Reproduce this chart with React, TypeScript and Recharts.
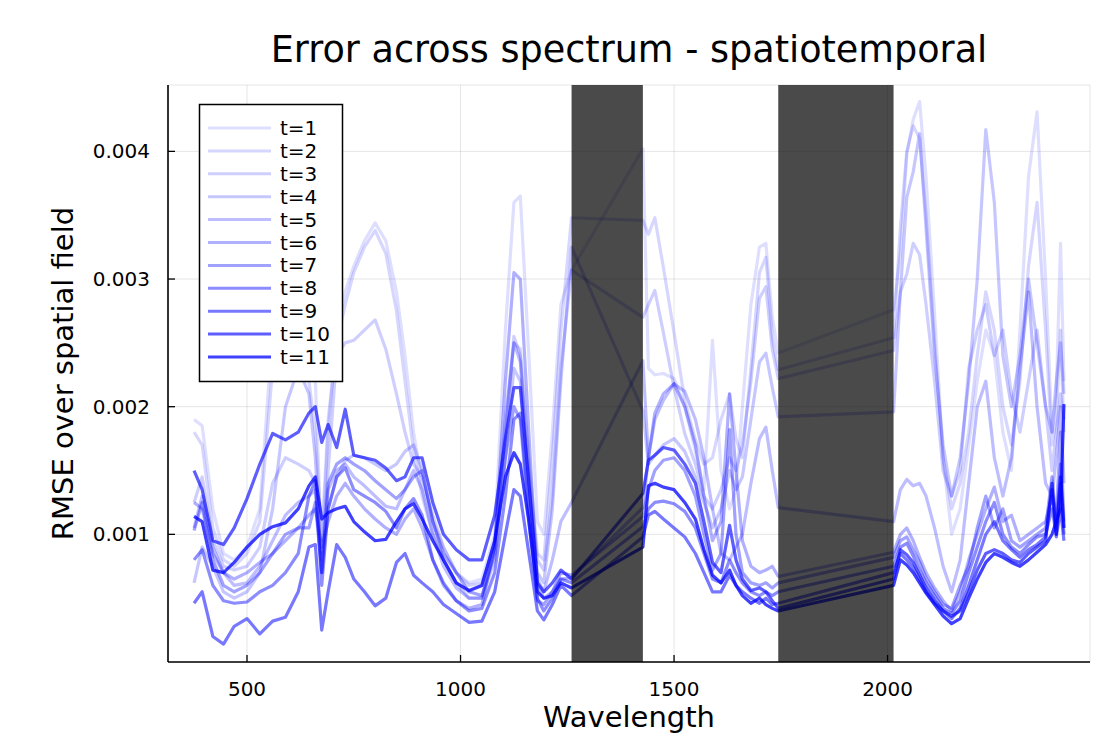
import React from 'react';
import { LineChart, Line, XAxis, YAxis, CartesianGrid, ReferenceArea } from 'recharts';

// Wavelength sampling (nm), in three segments separated by the masked absorption bands
const LEFT_WL = [376, 395, 420, 445, 470, 500, 530, 560, 590, 620, 645, 660, 675, 690, 710, 730, 750, 775, 800, 825, 850, 870, 890, 910, 935, 960, 990, 1020, 1050, 1080, 1105, 1125, 1140, 1160, 1180, 1195, 1215, 1235, 1260];
const MID_WL = [1427, 1440, 1455, 1475, 1500, 1525, 1550, 1570, 1590, 1610, 1630, 1645, 1660, 1680, 1700, 1715, 1730, 1744];
const RIGHT_WL = [2014, 2030, 2045, 2060, 2075, 2090, 2110, 2130, 2150, 2170, 2190, 2210, 2230, 2250, 2270, 2290, 2310, 2330, 2350, 2370, 2385, 2395, 2405, 2413];
const WAVELENGTHS = [...LEFT_WL, ...MID_WL, ...RIGHT_WL];

// Masked bands (nm)
const BANDS = [[1260, 1427], [1744, 2014]];

// RMSE values in units of 1e-3
const T1 = [1.90, 1.85, 1.20, 0.85, 0.80, 0.90, 1.20, 2.60, 2.90, 2.75, 2.60, 2.20, 0.85, 1.80, 2.60, 2.90, 3.10, 3.30, 3.44, 3.30, 2.90, 2.40, 1.80, 1.40, 1.10, 0.90, 0.70, 0.62, 0.65, 1.00, 2.60, 3.60, 3.65, 2.40, 1.10, 1.00, 1.80, 2.80, 3.07,
  4.02, 2.30, 2.25, 2.26, 2.22, 2.00, 1.65, 1.35, 2.52, 1.50, 1.20, 1.35, 2.00, 2.80, 3.25, 3.28, 2.70, 2.42,
  2.76, 3.20, 3.98, 4.25, 4.39, 3.80, 2.73, 1.60, 1.00, 1.20, 1.70, 2.20, 2.60, 2.40, 1.80, 1.50, 2.60, 3.80, 4.31, 3.00, 1.80, 2.10, 3.28, 2.20];
const T2 = [1.80, 1.70, 1.05, 0.80, 0.75, 0.85, 1.10, 2.30, 2.50, 2.40, 2.20, 1.80, 0.95, 1.90, 2.50, 2.80, 3.05, 3.25, 3.38, 3.20, 2.75, 2.20, 1.65, 1.30, 1.00, 0.80, 0.62, 0.55, 0.60, 0.95, 1.80, 2.50, 2.45, 1.60, 0.85, 0.80, 1.60, 2.60, 3.48,
  3.46, 3.35, 3.48, 3.09, 2.58, 2.05, 1.74, 1.55, 1.60, 1.90, 2.10, 1.75, 1.60, 2.30, 3.05, 3.17, 2.55, 2.29,
  2.54, 3.40, 4.00, 4.20, 4.10, 3.50, 2.50, 1.60, 1.20, 1.40, 1.80, 2.40, 2.90, 2.60, 2.00, 1.70, 2.20, 3.10, 3.60, 2.60, 1.70, 1.90, 2.60, 1.80];
const T3 = [1.25, 1.45, 0.95, 0.75, 0.72, 0.75, 0.90, 1.40, 1.60, 1.55, 1.50, 1.40, 0.80, 1.50, 2.40, 2.50, 2.52, 2.60, 2.68, 2.45, 2.10, 1.80, 1.55, 1.45, 1.15, 0.90, 0.70, 0.60, 0.62, 0.90, 1.80, 2.55, 2.40, 1.50, 0.80, 0.72, 1.30, 2.30, 3.07,
  2.70, 2.80, 2.91, 2.58, 2.15, 1.79, 1.55, 1.30, 1.20, 1.35, 1.60, 1.50, 1.70, 2.20, 2.85, 2.94, 2.45, 2.22,
  2.44, 2.90, 3.04, 3.28, 3.19, 2.80, 2.20, 1.50, 1.30, 1.50, 2.30, 2.60, 2.80, 2.40, 2.60, 2.10, 1.80, 2.20, 2.60, 2.00, 1.50, 1.80, 2.10, 1.90];
const T4 = [0.62, 0.90, 0.75, 0.55, 0.50, 0.55, 0.70, 1.20, 2.00, 2.30, 2.10, 1.60, 0.70, 1.20, 1.45, 1.58, 1.62, 1.60, 1.55, 1.50, 1.55, 1.65, 1.70, 1.50, 1.10, 0.80, 0.62, 0.50, 0.50, 0.80, 1.60, 2.30, 2.20, 1.40, 0.70, 0.62, 1.20, 2.20, 3.25,
  1.97, 1.55, 1.62, 1.70, 1.75, 1.65, 1.45, 1.25, 1.05, 1.20, 1.50, 1.35, 1.45, 1.90, 2.35, 2.42, 2.15, 1.92,
  1.96, 2.90, 3.64, 3.84, 4.14, 3.40, 2.40, 1.70, 1.30, 1.60, 2.20, 3.00, 4.17, 3.60, 2.40, 2.00, 2.40, 3.00, 2.50, 2.00, 1.80, 2.20, 2.50, 2.10];
const T5 = [1.05, 1.30, 0.90, 0.70, 0.60, 0.62, 0.75, 0.95, 1.15, 1.25, 1.30, 1.35, 0.70, 1.35, 1.50, 1.55, 1.45, 1.38, 1.30, 1.22, 1.20, 1.35, 1.50, 1.35, 1.00, 0.75, 0.58, 0.50, 0.50, 0.90, 1.90, 2.50, 2.35, 1.40, 0.65, 0.55, 0.80, 1.10, 1.25,
  2.36, 1.60, 1.90, 2.05, 2.18, 2.12, 1.90, 1.60, 1.20, 0.85, 0.80, 0.90, 1.00, 1.40, 1.75, 1.84, 1.50, 1.21,
  1.10, 1.35, 1.43, 1.38, 1.40, 1.30, 1.05, 0.75, 0.55, 0.80, 1.40, 2.00, 2.20, 1.60, 1.30, 1.60, 2.30, 2.90, 2.00, 1.40, 1.30, 1.60, 2.00, 1.40];
const T6 = [1.25, 1.20, 0.85, 0.70, 0.65, 0.70, 0.78, 0.85, 0.95, 1.05, 1.15, 1.20, 0.90, 1.10, 1.30, 1.40, 1.30, 1.20, 1.12, 1.05, 1.00, 1.12, 1.20, 1.05, 0.80, 0.60, 0.48, 0.42, 0.45, 0.90, 2.20, 3.05, 3.00, 1.80, 0.60, 0.50, 0.55, 0.65, 0.66,
  1.21, 1.60, 1.95, 2.10, 2.18, 2.00, 1.70, 1.30, 0.95, 1.10, 2.10, 1.50, 0.95, 0.75, 0.70, 0.72, 0.75, 0.67,
  0.86, 1.00, 1.05, 0.95, 0.82, 0.70, 0.58, 0.48, 0.40, 0.55, 0.80, 1.00, 1.20, 1.37, 1.10, 1.15, 0.95, 1.00, 1.05, 1.10, 1.30, 1.15, 1.80, 1.10];
const T7 = [1.03, 1.25, 0.80, 0.60, 0.55, 0.60, 0.70, 0.85, 1.00, 1.05, 1.05, 1.25, 0.70, 1.40, 1.55, 1.60, 1.55, 1.50, 1.42, 1.35, 1.28, 1.35, 1.45, 1.50, 1.10, 0.85, 0.70, 0.55, 0.52, 0.85, 1.60, 2.00, 1.90, 1.10, 0.48, 0.45, 0.55, 0.70, 0.68,
  1.14, 1.35, 1.50, 1.58, 1.60, 1.50, 1.30, 1.00, 0.72, 0.85, 1.82, 1.00, 0.70, 0.62, 0.60, 0.62, 0.58, 0.62,
  0.82, 0.95, 0.98, 0.88, 0.78, 0.66, 0.55, 0.45, 0.42, 0.60, 0.75, 1.05, 1.30, 1.05, 1.20, 0.95, 0.90, 0.95, 1.00, 1.05, 1.45, 1.05, 1.55, 1.05];
const T8 = [0.80, 0.88, 0.60, 0.48, 0.46, 0.47, 0.55, 0.60, 0.70, 0.85, 1.30, 1.42, 0.60, 1.20, 1.45, 1.52, 1.35, 1.30, 1.25, 1.18, 1.05, 1.20, 1.28, 1.15, 0.80, 0.62, 0.48, 0.40, 0.42, 0.70, 1.30, 1.90, 1.95, 1.20, 0.50, 0.40, 0.50, 0.65, 0.62,
  1.06, 1.20, 1.25, 1.26, 1.24, 1.18, 1.05, 0.85, 0.65, 0.62, 0.80, 0.70, 0.62, 0.55, 0.52, 0.55, 0.52, 0.55,
  0.75, 0.90, 0.93, 0.83, 0.72, 0.62, 0.52, 0.42, 0.38, 0.48, 0.70, 0.90, 1.10, 1.25, 1.00, 0.90, 0.85, 0.92, 0.98, 1.00, 1.20, 1.00, 1.40, 1.00];
const T9 = [0.46, 0.55, 0.20, 0.14, 0.28, 0.34, 0.22, 0.32, 0.35, 0.55, 0.90, 0.92, 0.25, 0.55, 0.92, 0.82, 0.65, 0.55, 0.44, 0.50, 0.78, 0.85, 0.68, 0.62, 0.55, 0.45, 0.38, 0.31, 0.32, 0.55, 1.00, 1.35, 1.30, 0.85, 0.40, 0.33, 0.45, 0.60, 0.52,
  0.98, 1.15, 1.18, 1.12, 1.05, 0.98, 0.85, 0.70, 0.55, 0.55, 0.68, 0.60, 0.55, 0.50, 0.46, 0.50, 0.45, 0.46,
  0.70, 0.85, 0.80, 0.74, 0.65, 0.55, 0.46, 0.40, 0.34, 0.42, 0.60, 0.80, 1.00, 1.10, 0.95, 0.88, 0.82, 0.88, 0.92, 0.98, 1.35, 0.98, 1.20, 0.95];
const T10 = [1.50, 1.35, 0.95, 0.92, 1.05, 1.28, 1.55, 1.79, 1.74, 1.80, 1.95, 2.00, 1.72, 1.86, 1.68, 1.98, 1.62, 1.60, 1.58, 1.52, 1.42, 1.45, 1.60, 1.60, 1.25, 1.00, 0.88, 0.80, 0.80, 1.15, 1.75, 2.15, 2.15, 1.40, 0.62, 0.55, 0.62, 0.72, 0.65,
  1.32, 1.58, 1.62, 1.68, 1.66, 1.55, 1.40, 1.10, 0.78, 0.70, 1.07, 0.80, 0.65, 0.56, 0.58, 0.55, 0.48, 0.42,
  0.65, 0.88, 0.84, 0.78, 0.68, 0.58, 0.48, 0.40, 0.36, 0.40, 0.55, 0.72, 0.85, 0.88, 0.85, 0.80, 0.78, 0.85, 0.90, 0.95, 1.40, 1.00, 1.45, 1.05];
const T11 = [1.14, 1.10, 0.72, 0.70, 0.78, 0.90, 1.00, 1.06, 1.09, 1.20, 1.38, 1.45, 1.12, 1.17, 1.20, 1.22, 1.10, 1.02, 0.95, 0.96, 1.10, 1.20, 1.24, 1.12, 0.95, 0.80, 0.62, 0.56, 0.60, 0.95, 1.45, 1.64, 1.55, 1.10, 0.55, 0.50, 0.52, 0.62, 0.58,
  0.90, 1.38, 1.40, 1.37, 1.35, 1.25, 1.12, 0.88, 0.68, 0.62, 0.72, 0.60, 0.52, 0.46, 0.50, 0.45, 0.42, 0.40,
  0.60, 0.80, 0.76, 0.70, 0.62, 0.54, 0.45, 0.36, 0.30, 0.34, 0.50, 0.65, 0.78, 0.85, 0.82, 0.78, 0.75, 0.80, 0.86, 0.92, 1.00, 1.10, 1.20, 2.02];

const SERIES_NAMES = ['t=1', 't=2', 't=3', 't=4', 't=5', 't=6', 't=7', 't=8', 't=9', 't=10', 't=11'];
const SERIES_VALUES = [T1, T2, T3, T4, T5, T6, T7, T8, T9, T10, T11];
const ALPHAS = [0.13, 0.16, 0.19, 0.22, 0.26, 0.31, 0.37, 0.45, 0.53, 0.63, 0.75];

const X_TICKS = [500, 1000, 1500, 2000];
const Y_TICKS = [0.001, 0.002, 0.003, 0.004];

const UNIT = 0.001;
const rows = WAVELENGTHS.map((wl, i) => {
  const row: Record<string, number> = { wl };
  SERIES_VALUES.forEach((vals, k) => {
    row['s' + k] = vals[i] * UNIT;
  });
  return row;
});

const FONT = 'DejaVu Sans';

const XTick = (props: any) => {
  const { x, y, payload } = props;
  return (
    <g>
      <line x1={x} x2={x} y1={y} y2={y - 7} stroke="#000" strokeWidth={1.3} />
      <text x={x} y={y + 34} textAnchor="middle" fontSize={20} fontFamily={FONT} fill="#000">
        {payload.value}
      </text>
    </g>
  );
};

const YTick = (props: any) => {
  const { x, y, payload } = props;
  return (
    <g>
      <line x1={x} x2={x + 7} y1={y} y2={y} stroke="#000" strokeWidth={1.3} />
      <text x={x - 18} y={y + 7} textAnchor="end" fontSize={20} fontFamily={FONT} fill="#000">
        {Number(payload.value).toFixed(3)}
      </text>
    </g>
  );
};

export default function App() {
  const legendTop = 104;
  const rowStep = 22.9;
  return (
    <div style={{ position: 'absolute', left: 0, top: 0, width: 1095, height: 735, background: '#fff' }}>
      <LineChart width={1095} height={735} data={rows} margin={{ top: 85, right: 5, bottom: 0, left: 0 }}>
        <CartesianGrid stroke="#000" strokeOpacity={0.1} strokeWidth={1} />
        <XAxis
          dataKey="wl"
          type="number"
          domain={[315, 2474]}
          ticks={X_TICKS}
          allowDataOverflow
          height={73}
          tickSize={0}
          tickMargin={0}
          tickLine={false}
          axisLine={{ stroke: '#000', strokeWidth: 1.6 }}
          tick={<XTick />}
          label={(p: any) => {
            const vb = p.viewBox || { x: 168, width: 922 };
            return (
              <text x={vb.x + vb.width / 2} y={727} textAnchor="middle" fontSize={29} fontFamily={FONT} fill="#000">
                Wavelength
              </text>
            );
          }}
        />
        <YAxis
          type="number"
          domain={[0, 0.00452]}
          ticks={Y_TICKS}
          allowDataOverflow
          width={168}
          tickSize={0}
          tickMargin={0}
          tickLine={false}
          axisLine={{ stroke: '#000', strokeWidth: 1.6 }}
          tick={<YTick />}
          label={(p: any) => {
            const vb = p.viewBox || { y: 85, height: 577 };
            const cy = vb.y + vb.height / 2;
            return (
              <text x={73} y={cy} textAnchor="middle" fontSize={29} fontFamily={FONT} fill="#000" transform={`rotate(-90, 73, ${cy})`}>
                RMSE over spatial field
              </text>
            );
          }}
        />
        {SERIES_NAMES.map((name, k) => (
          <Line
            key={name}
            name={name}
            dataKey={'s' + k}
            type="linear"
            stroke="#0000ff"
            strokeOpacity={ALPHAS[k]}
            strokeWidth={3.2}
            strokeLinejoin="round"
            dot={false}
            activeDot={false}
            isAnimationActive={false}
          />
        ))}
        {BANDS.map(([a, b], i) => (
          <ReferenceArea key={i} x1={a} x2={b} fill="#000" fillOpacity={0.71} stroke="none" zIndex={450} ifOverflow="extendDomain" />
        ))}
      </LineChart>
      <svg width={1095} height={735} style={{ position: 'absolute', left: 0, top: 0, pointerEvents: 'none' }}>
        <text x={629} y={62} textAnchor="middle" fontSize={36.6} fontFamily={FONT} fill="#000">
          Error across spectrum - spatiotemporal
        </text>
        <rect x={199.5} y={legendTop + 0.5} width={143} height={277} fill="#fff" stroke="#000" strokeWidth={1.5} />
        {SERIES_NAMES.map((name, k) => {
          const cy = 128 + k * rowStep;
          return (
            <g key={name}>
              <line x1={208} x2={271} y1={cy} y2={cy} stroke="#0000ff" strokeOpacity={ALPHAS[k]} strokeWidth={3} />
              <text x={280} y={cy + 7} fontSize={20} fontFamily={FONT} fill="#000">
                {name}
              </text>
            </g>
          );
        })}
      </svg>
    </div>
  );
}
